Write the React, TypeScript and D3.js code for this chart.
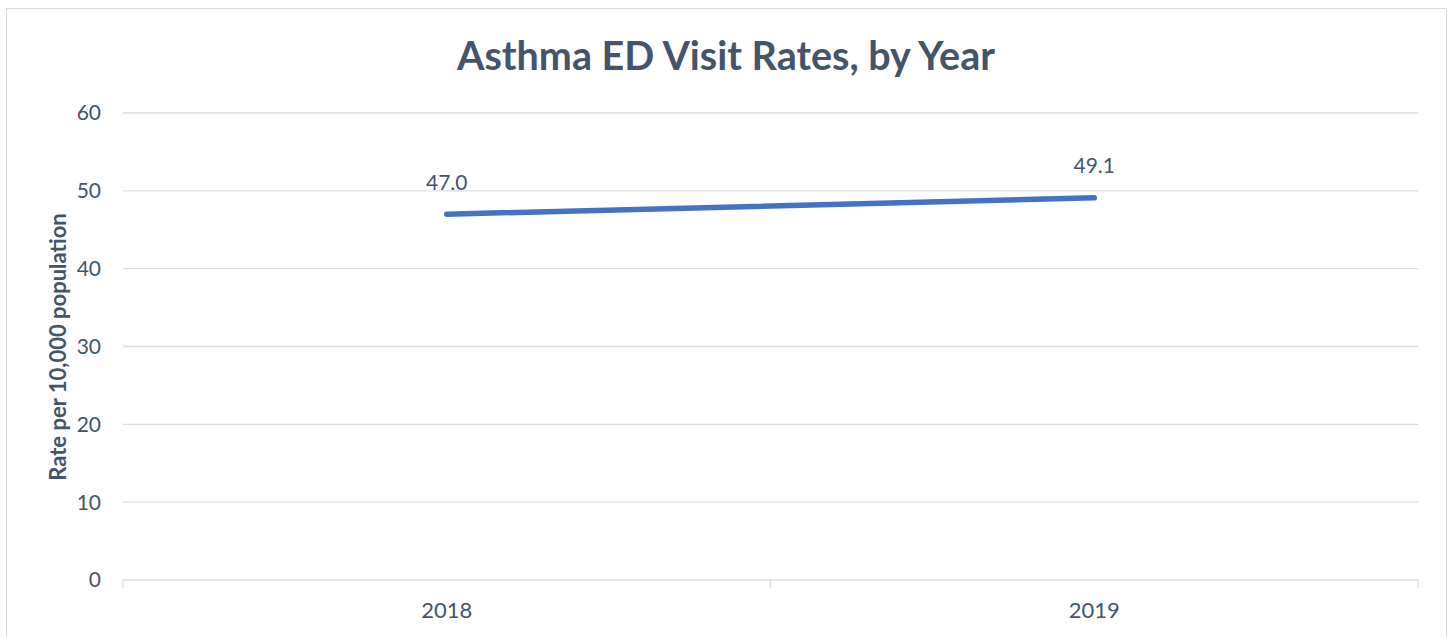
import React from "react";
import * as d3 from "d3";

const categories = ["2018", "2019"];
const values = [47.0, 49.1];
const yTicks = [0, 10, 20, 30, 40, 50, 60];
const title = "Asthma ED Visit Rates, by Year";
const yTitle = "Rate per 10,000 population";

const W = 1450;
const H = 637;
const left = 123;
const right = 1418;
const top = 113;
const bottom = 580;
const textColor = "#44546A";
const gridColor = "#D9DDE3";
const font = "Lato, 'Open Sans', sans-serif";

export default function App() {
  const x = d3.scaleBand<string>().domain(categories).range([left, right]);
  const y = d3.scaleLinear().domain([0, 60]).range([bottom, top]);
  const cx = (c: string) => (x(c) as number) + x.bandwidth() / 2;
  const line = d3
    .line<number>()
    .x((_, i) => cx(categories[i]))
    .y((d) => y(d));
  const xTickPos = [left, ...categories.map((c) => (x(c) as number) + x.bandwidth())];

  return (
    <svg
      width={W}
      height={H}
      style={{ position: "absolute", left: 0, top: 0, background: "#fff" }}
    >
      <rect x={6.5} y={8.5} width={1440} height={H + 10} fill="#fff" stroke="#D9D9D9" strokeWidth={1} />
      <text
        x={726}
        y={70}
        textAnchor="middle"
        fontFamily={font}
        fontWeight="bold"
        fontSize={39.5}
        fill={textColor}
      >
        {title}
      </text>
      {yTicks.map((t) => (
        <g key={t}>
          <line x1={left} x2={right} y1={y(t)} y2={y(t)} stroke={gridColor} strokeWidth={1.3} />
          <text
            x={101}
            y={y(t)}
            dy="0.35em"
            textAnchor="end"
            fontFamily={font}
            fontSize={21}
            fill={textColor}
          >
            {t}
          </text>
        </g>
      ))}
      {xTickPos.map((p, i) => (
        <line key={i} x1={p} x2={p} y1={bottom} y2={bottom + 8} stroke={gridColor} strokeWidth={1.3} />
      ))}
      {categories.map((c) => (
        <text
          key={c}
          x={cx(c)}
          y={610}
          dy="0.35em"
          textAnchor="middle"
          fontFamily={font}
          fontSize={22}
          fill={textColor}
        >
          {c}
        </text>
      ))}
      <text
        transform={`translate(58, ${347}) rotate(-90)`}
        textAnchor="middle"
        dy="0.35em"
        fontFamily={font}
        fontWeight="bold"
        fontSize={22}
        fill={textColor}
      >
        {yTitle}
      </text>
      <path
        d={line(values) || ""}
        fill="none"
        stroke="#4472C4"
        strokeWidth={5.5}
        strokeLinecap="round"
      />
      {values.map((v, i) => (
        <text
          key={i}
          x={cx(categories[i])}
          y={y(v) - 32}
          dy="0.35em"
          textAnchor="middle"
          fontFamily={font}
          fontSize={21}
          fill={textColor}
        >
          {v.toFixed(1)}
        </text>
      ))}
    </svg>
  );
}
